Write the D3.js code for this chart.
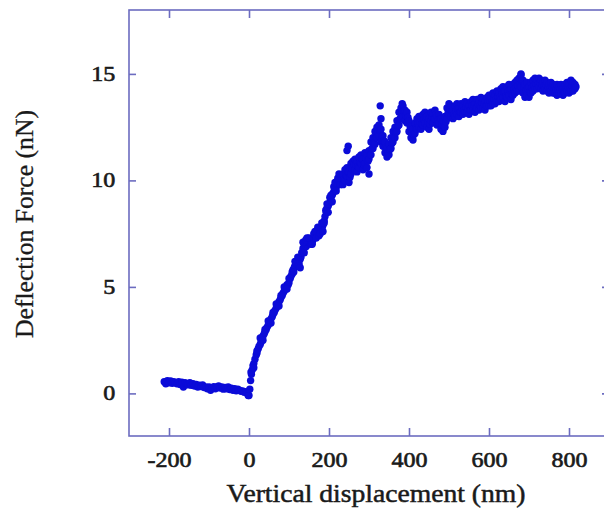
<!DOCTYPE html>
<html>
<head>
<meta charset="utf-8">
<script src="https://cdn.jsdelivr.net/npm/d3@7"></script>
<style>
  body { margin: 0; background: #fff; }
</style>
</head>
<body>
<script>
// approach part: flat contact-free region and the steep rise (single band)
var approachX = [-212,-208,-204,-200,-196,-192,-188,-184,-180,-176,-172,-168,-164,-160,-156,-152,-148,-144,-140,-136,-132,-128,-124,-120,-116,-112,-108,-104,-100,-96,-92,-88,-84,-80,-76,-72,-68,-64,-60,-56,-52,-48,-44,-40,-36,-32,-28,-24,-20,-16,-12,-8,-4,-2,0,2,
  4,6,8,10,12,15,18,20,23,25,28,30,33,35,38,40,43,45,48,50,53,55,58,60,63,65,68,70,73,75,78,80,83,85,88,90,93,95,98,100,103,105,108,110,113,115,118,120,123,125,128,130,133,135,138,140,143,145,148,150,153,155,158,160,163,165,168,170,173,175,178,180,183,185,188,190,193,195,198,200,203,205,208,210,213,215,218,220,223,225,228,230];
var approachF = [0.55,0.45,0.6,0.5,0.58,0.48,0.55,0.5,0.45,0.55,0.42,0.52,0.3,0.5,0.45,0.4,0.5,0.38,0.45,0.35,0.42,0.3,0.38,0.32,0.4,0.28,0.3,0.22,0.3,0.15,0.25,0.32,0.22,0.3,0.35,0.25,0.3,0.2,0.28,0.22,0.3,0.18,0.25,0.15,0.22,0.12,0.2,0.15,0.1,0.12,0.05,0.08,0.0,-0.1,-0.1,0.2,
  0.6,0.9,1.1,1.3,1.4,1.6,1.8,1.9,2.1,2.2,2.3,2.4,2.6,2.7,2.8,2.9,3.0,3.1,3.2,3.3,3.4,3.5,3.6,3.7,3.8,3.9,4.0,4.1,4.2,4.3,4.4,4.5,4.6,4.7,4.8,4.9,5.0,5.1,5.1,5.2,5.4,5.5,5.7,5.8,5.9,6.0,6.1,6.2,6.1,6.1,6.3,6.4,6.6,6.8,6.9,7.0,6.9,7.0,7.1,7.1,7.2,7.2,7.1,7.2,7.3,7.4,7.4,7.5,7.6,7.6,7.7,7.7,7.8,7.9,8.1,8.3,8.5,8.7,8.8,8.9,9.0,9.1,9.3,9.4,9.5,9.6,9.7,9.8,9.8,9.9,10.0,10.1];
// wobble of the rising band (dots beside the main row)
var riseX = [5,12,20,28,35,40,48,55,60,68,75,80,88,95,100,108,112,115,122,125,128,132,135,138,142,145,150,155,158,162,165,168,172,175,178,182,185,188,192,195,198,202,205,208,212,215,218,222,225,228];
var riseF = [1.0,1.2,2.0,2.6,2.5,3.0,3.4,3.3,3.8,4.2,4.1,4.6,5.0,4.9,5.4,5.6,5.7,6.2,6.4,6.0,5.9,6.6,7.1,6.6,7.2,7.3,7.3,7.0,7.0,7.5,7.6,7.3,7.8,7.4,7.5,8.0,7.6,8.0,8.6,8.9,8.5,9.2,9.3,9.0,9.7,9.9,9.5,10.1,10.3,9.8];

// plateau: scattered band, upper and lower edge per displacement
var bandX = [235,240,245,250,255,260,265,270,275,280,285,290,295,300,305,310,315,320,325,330,335,340,345,350,355,360,365,370,375,380,385,390,395,400,405,410,415,420,425,430,435,440,445,450,455,460,465,470,475,480,485,490,495,500,505,510,515,520,525,530,535,540,545,550,555,560,565,570,575,580,585,590,595,600,605,610,615,620,625,630,635,640,645,650,655,660,665,670,675,680,685,690,695,700,705,710,715,720,725,730,735,740,745,750,755,760,765,770,775,780,785,790,795,800,805,810,815];
var bandHi = [10.3,10.5,10.6,10.4,10.8,10.9,11.0,10.9,11.1,11.2,11.0,11.3,11.2,11.4,11.8,12.0,12.3,12.5,12.6,12.4,12.1,11.8,11.5,11.7,12.0,12.3,12.5,12.8,13.2,13.4,13.5,13.3,13.2,12.8,12.5,12.4,12.7,12.9,13.0,12.9,13.1,13.2,13.0,12.9,13.2,13.1,13.3,13.0,13.1,12.9,12.8,13.0,13.4,13.6,13.5,13.3,13.5,13.6,13.4,13.6,13.5,13.7,13.6,13.5,13.7,13.8,13.6,13.8,13.7,13.9,13.8,13.7,13.9,14.0,13.9,14.1,14.0,14.2,14.1,14.3,14.4,14.2,14.4,14.5,14.3,14.5,14.6,14.7,14.8,14.95,14.7,14.5,14.6,14.4,14.6,14.7,14.8,14.7,14.8,14.7,14.6,14.7,14.6,14.5,14.6,14.5,14.4,14.5,14.4,14.5,14.3,14.5,14.6,14.5,14.7,14.6,14.5];
var bandLo = [9.8,10.0,10.2,9.9,10.3,10.6,10.5,10.4,10.6,10.8,10.5,10.8,10.6,11.0,11.2,11.5,11.7,12.0,12.1,11.8,11.6,11.3,11.1,11.2,11.5,11.8,12.0,12.3,12.6,12.9,13.0,12.8,12.7,12.3,12.0,11.9,12.2,12.4,12.5,12.4,12.6,12.7,12.5,12.4,12.8,12.7,12.9,12.6,12.7,12.4,12.3,12.5,12.9,13.1,13.0,12.9,13.0,13.1,13.0,13.2,13.1,13.2,13.2,13.1,13.3,13.3,13.2,13.4,13.3,13.4,13.4,13.3,13.5,13.5,13.5,13.6,13.6,13.7,13.7,13.8,13.9,13.7,13.9,14.0,13.8,14.0,14.1,14.2,14.2,14.4,14.1,13.9,14.0,13.9,14.1,14.2,14.3,14.3,14.4,14.3,14.2,14.3,14.2,14.1,14.2,14.1,14.1,14.0,14.1,14.1,14.0,14.1,14.2,14.1,14.2,14.2,14.3];

// isolated outliers
var spikeX = [245, 248, 300, 328, 330, 383, 680];
var spikeF = [11.4, 11.6, 10.3, 13.5, 12.9, 13.6, 15.0];

var xTicks = [-200, 0, 200, 400, 600, 800];
var yTicks = [0, 5, 10, 15];

var W = 604, H = 512;
var axisColor = '#6c6cc0';
var dotColor = '#0b0bd8';
var textColor = '#1a1a1a';
var serif = '"Liberation Serif", "Times New Roman", serif';

var svg = d3.select('body').append('svg')
  .attr('width', W)
  .attr('height', H);

var x = d3.scaleLinear().domain([-300, 900]).range([129, 609]);
var y = d3.scaleLinear().domain([-2, 18]).range([436, 10]);

// collect all points
var pts = [];
approachX.forEach(function(d, i) { pts.push([d, approachF[i]]); });
riseX.forEach(function(d, i) { pts.push([d, riseF[i]]); });
bandX.forEach(function(d, i) {
  pts.push([d, bandHi[i]]);
  pts.push([d, bandLo[i]]);
  pts.push([d + 2.5, (bandHi[i] + bandLo[i]) / 2]);
});
spikeX.forEach(function(d, i) { pts.push([d, spikeF[i]]); });

svg.append('g')
  .selectAll('circle')
  .data(pts)
  .enter().append('circle')
  .attr('cx', function(d) { return x(d[0]); })
  .attr('cy', function(d) { return y(d[1]); })
  .attr('r', 3.7)
  .style('fill', dotColor);

function styleAxis(g, showLabels) {
  g.select('.domain').remove();
  g.selectAll('line').style('stroke', axisColor).style('stroke-width', 1.6);
  if (!showLabels) g.selectAll('text').remove();
  g.selectAll('text')
    .style('font-family', serif)
    .style('font-size', '20px')
    .style('fill', textColor)
    .style('stroke', textColor)
    .style('stroke-width', 0.6);
}

var fmt = function(d) { return String(d); };

// frame
svg.append('rect')
  .attr('x', x.range()[0])
  .attr('y', y.range()[1])
  .attr('width', x.range()[1] - x.range()[0])
  .attr('height', y.range()[0] - y.range()[1])
  .style('fill', 'none')
  .style('stroke', axisColor)
  .style('stroke-width', 1.6);

var axBottom = svg.append('g')
  .attr('transform', 'translate(0,' + y.range()[0] + ')')
  .call(d3.axisBottom(x).tickValues(xTicks).tickFormat(fmt).tickSize(-8).tickPadding(17));
styleAxis(axBottom, true);
axBottom.selectAll('text').attr('transform', 'scale(1.2,1)');

var axTop = svg.append('g')
  .attr('transform', 'translate(0,' + y.range()[1] + ')')
  .call(d3.axisTop(x).tickValues(xTicks).tickSize(-8));
styleAxis(axTop, false);

var axLeft = svg.append('g')
  .attr('transform', 'translate(' + x.range()[0] + ',0)')
  .call(d3.axisLeft(y).tickValues(yTicks).tickFormat(fmt).tickSize(-7));
styleAxis(axLeft, true);
axLeft.selectAll('text')
  .attr('x', -11.5)
  .attr('transform', 'scale(1.2,1)');

var axRight = svg.append('g')
  .attr('transform', 'translate(' + x.range()[1] + ',0)')
  .call(d3.axisRight(y).tickValues(yTicks).tickSize(-7));
styleAxis(axRight, false);

// axis titles
svg.append('text')
  .attr('x', 376)
  .attr('y', 502)
  .attr('text-anchor', 'middle')
  .attr('textLength', 299)
  .attr('lengthAdjust', 'spacingAndGlyphs')
  .style('font-family', serif)
  .style('font-size', '25px')
  .style('fill', textColor)
  .style('stroke', textColor)
  .style('stroke-width', 0.5)
  .text('Vertical displacement (nm)');

svg.append('text')
  .attr('transform', 'translate(33,224) rotate(-90)')
  .attr('text-anchor', 'middle')
  .attr('textLength', 228)
  .attr('lengthAdjust', 'spacingAndGlyphs')
  .style('font-family', serif)
  .style('font-size', '25px')
  .style('fill', textColor)
  .style('stroke', textColor)
  .style('stroke-width', 0.3)
  .text('Deflection Force (nN)');
</script>
</body>
</html>
